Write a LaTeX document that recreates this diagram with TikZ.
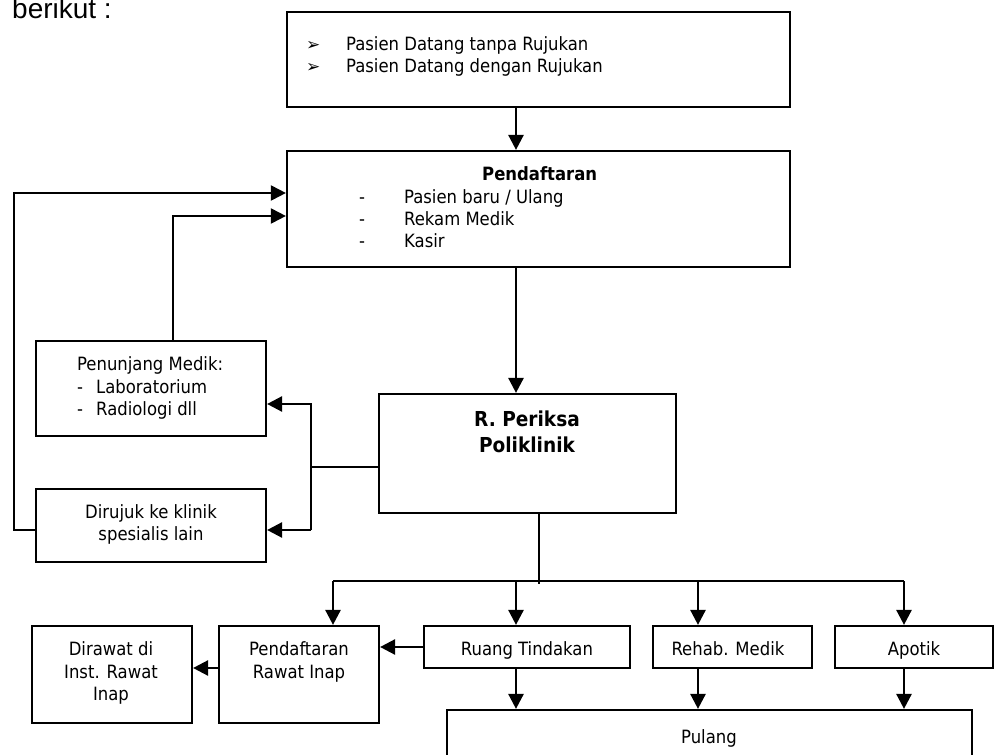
\documentclass[tikz,border=0pt]{standalone}
\usepackage{fontspec}
\setmainfont{DejaVu Sans Condensed}
\newfontfamily\leadfont{Liberation Sans}
\newfontfamily\bulletfont{DejaVu Sans}
\usetikzlibrary{arrows.meta}

\begin{document}
\begin{tikzpicture}[x=1pt,y=-1pt,
  box/.style={draw, line width=2.2pt, inner sep=0pt},
  txt/.style={inner sep=0pt, anchor=base west, font=\fontsize{18.3}{22}\selectfont},
  ctxt/.style={inner sep=0pt, anchor=base, font=\fontsize{18.3}{22}\selectfont},
  btxt/.style={inner sep=0pt, anchor=base, font=\fontsize{20.6}{24}\selectfont\bfseries},
  flow/.style={line width=2.6pt, -{Triangle[length=15pt,width=15pt]}},
  link/.style={line width=2.6pt},
  thinlink/.style={line width=2pt},
]
\useasboundingbox (0,0) rectangle (994,755);
\clip (0,0) rectangle (994,755);

% heading line above the chart
\node[inner sep=0pt, anchor=base west, font=\leadfont\fontsize{28}{32}\selectfont] (lead) at (12,18) {berikut :};

% boxes
\node[box, minimum width=503pt, minimum height=95pt]  (top)       at (538.5,59.5) {};
\node[box, minimum width=503pt, minimum height=116pt] (pend)      at (538.5,209) {};
\node[box, minimum width=230pt, minimum height=95pt]  (penunjang) at (151,388.5) {};
\node[box, minimum width=230pt, minimum height=73pt]  (dirujuk)   at (151,525.5) {};
\node[box, minimum width=297pt, minimum height=119pt] (periksa)   at (527.5,453.5) {};
\node[box, minimum width=160pt, minimum height=97pt]  (pri)       at (299,674.5) {};
\node[box, minimum width=160pt, minimum height=97pt]  (dirawat)   at (112,674.5) {};
\node[box, minimum width=206pt, minimum height=42pt]  (ruang)     at (527,647) {};
\node[box, minimum width=159pt, minimum height=42pt]  (rehab)     at (732.5,647) {};
\node[box, minimum width=158pt, minimum height=42pt]  (apotik)    at (914,647) {};
\node[box, minimum width=525pt, minimum height=80pt]  (pulang)    at (709.5,750) {};

% arrival
\node[txt, font=\bulletfont\fontsize{17}{20}\selectfont] (b1) at (306,50) {➢};
\node[txt, font=\bulletfont\fontsize{17}{20}\selectfont] (b2) at (306,72) {➢};
\node[txt] (top1) at (346,50) {Pasien Datang tanpa Rujukan};
\node[txt] (top2) at (346,72) {Pasien Datang dengan Rujukan};

% registration
\node[txt, font=\fontsize{18.3}{22}\selectfont\bfseries] (pendh) at (482,180) {Pendaftaran};
\node[txt] (pd1) at (359,203) {-};
\node[txt] (pd2) at (359,225) {-};
\node[txt] (pd3) at (359,247) {-};
\node[txt] (pend1) at (404,203) {Pasien baru / Ulang};
\node[txt] (pend2) at (404,225) {Rekam Medik};
\node[txt] (pend3) at (404,247) {Kasir};

% supporting services
\node[txt] (pen0) at (77,370) {Penunjang Medik:};
\node[txt] (pnd1) at (77,393) {-};
\node[txt] (pnd2) at (77,415) {-};
\node[txt] (pen1) at (96,393) {Laboratorium};
\node[txt] (pen2) at (96,415) {Radiologi dll};

% referral
\node[ctxt] (dir1) at (151,518) {Dirujuk ke klinik};
\node[ctxt] (dir2) at (151,540) {spesialis lain};

% examination room
\node[btxt] (per1) at (527,426) {R. Periksa};
\node[btxt] (per2) at (527,452) {Poliklinik};

% inpatient
\node[ctxt] (pri1) at (299,655) {Pendaftaran};
\node[ctxt] (pri2) at (299,678) {Rawat Inap};
\node[ctxt] (dw1) at (111,655) {Dirawat di};
\node[ctxt] (dw2) at (111,678) {Inst. Rawat};
\node[ctxt] (dw3) at (111,700) {Inap};

% services
\node[ctxt] (ruangt)  at (527,655) {Ruang Tindakan};
\node[ctxt] (rehabt)  at (728,655) {Rehab. Medik};
\node[ctxt] (apotikt) at (914,655) {Apotik};
\node[ctxt] (pulangt) at (709,743) {Pulang};

% guide coordinates
\coordinate (spine) at (516,0);
\coordinate (bx) at (311,467);
\coordinate (ya) at (0,404);
\coordinate (yb) at (0,530);
\coordinate (ret1) at (173,216);
\coordinate (ret2) at (14,193);
\coordinate (drop) at (539,584);
\coordinate (bus) at (0,581);
\coordinate (busL) at (333,581);
\coordinate (busR) at (904,581);
\coordinate (colR) at (698,0);
\coordinate (yc) at (0,647);
\coordinate (yd) at (0,668);

% main line
\draw[flow] (top.south -| spine) -- (pend.north -| spine);
\draw[flow] (pend.south -| spine) -- (periksa.north -| spine);

% branch to support and referral
\draw[thinlink] (periksa.west |- bx) -- (bx);
\draw[flow] (bx |- yb) -- (bx |- ya) -- (penunjang.east |- ya);
\draw[flow] (bx |- yb) -- (dirujuk.east |- yb);

% returns to registration
\draw[flow, line width=2pt] (penunjang.north -| ret1) -- (ret1) -- (pend.west |- ret1);
\draw[flow, line width=2pt] (dirujuk.west |- yb) -- (ret2 |- yb) -- (ret2) -- (pend.west |- ret2);

% distribution
\draw[thinlink] (periksa.south -| drop) -- (drop);
\draw[link] (busL) -- (busR);
\draw[flow] (busL) -- (pri.north -| busL);
\draw[flow] (bus -| spine) -- (ruang.north -| spine);
\draw[flow] (bus -| colR) -- (rehab.north -| colR);
\draw[flow] (busR) -- (apotik.north -| busR);

% to discharge
\draw[flow] (ruang.south -| spine) -- (pulang.north -| spine);
\draw[flow] (rehab.south -| colR) -- (pulang.north -| colR);
\draw[flow] (apotik.south -| busR) -- (pulang.north -| busR);

% inpatient chain
\draw[flow] (ruang.west |- yc) -- (pri.east |- yc);
\draw[flow] (pri.west |- yd) -- (dirawat.east |- yd);
\end{tikzpicture}
\end{document}
